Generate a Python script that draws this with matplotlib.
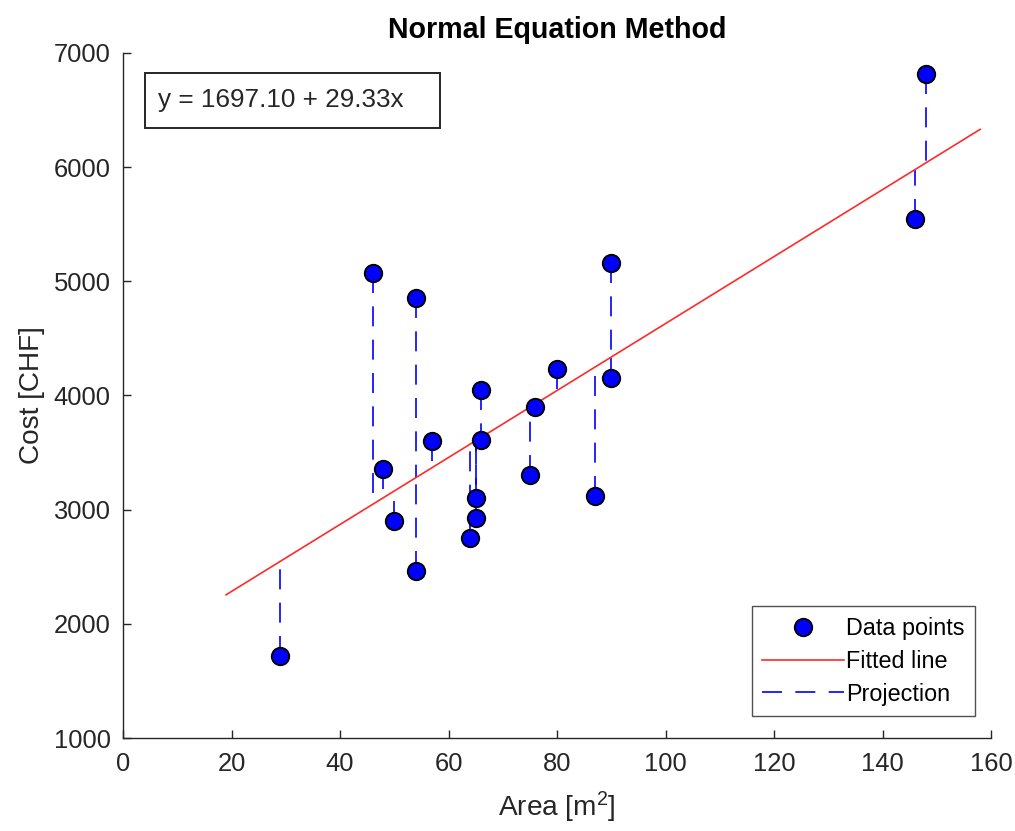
import numpy as np
import matplotlib
matplotlib.use("Agg")
import matplotlib.pyplot as plt
from matplotlib.lines import Line2D
from matplotlib.patches import Rectangle

plt.rcParams['font.family'] = ['Liberation Sans', 'DejaVu Sans']
plt.rcParams['mathtext.fontset'] = 'custom'
plt.rcParams['mathtext.rm'] = 'Liberation Sans'
plt.rcParams['mathtext.it'] = 'Liberation Sans'

# Data
area = [29, 46, 48, 50, 54, 54, 57, 64, 65, 65, 66, 66, 75, 76, 80, 87, 90, 90, 146, 148]
cost = [1720, 5070, 3360, 2900, 4850, 2460, 3600, 2750, 3100, 2930,
        4050, 3610, 3300, 3900, 4230, 3120, 5160, 4150, 5550, 6820]
intercept = 1697.10
slope = 29.33
title = "Normal Equation Method"
xlabel = "Area [m$^{2}$]"
ylabel = "Cost [CHF]"
xticks = [0, 20, 40, 60, 80, 100, 120, 140, 160]
yticks = [1000, 2000, 3000, 4000, 5000, 6000, 7000]
legend_labels = ['Data points', 'Fitted line', 'Projection']

x = np.array(area, dtype=float)
y = np.array(cost, dtype=float)
yhat = intercept + slope * x
xline = np.linspace(x.min() - 10, x.max() + 10, 100)
yline = intercept + slope * xline

dark = '#262626'
red = '#ff2a2a'
fig = plt.figure(figsize=(10.15, 8.31), dpi=100)
ax = fig.add_axes([123/1015, 1 - 738/831, 868/1015, 685/831])

# projections
proj_style = dict(color='#0000ff', lw=1.2, linestyle=(0, (12, 8)))
for xi, yi, yh in zip(x, y, yhat):
    ax.plot([xi, xi], [yi, yh], **proj_style)
ax.plot(xline, yline, color=red, lw=1.2, zorder=3)
ax.plot(x, y, 'o', color='#0000ff', markeredgecolor='black', markersize=12.5,
        markeredgewidth=1.4, zorder=4)

ax.set_xlim(0, 160)
ax.set_ylim(1000, 7000)
ax.set_xticks(xticks)
ax.set_yticks(yticks)
for s in ['top', 'right']:
    ax.spines[s].set_visible(False)
for s in ['left', 'bottom']:
    ax.spines[s].set_color(dark)
    ax.spines[s].set_linewidth(1.0)
ax.tick_params(direction='in', length=6, width=1.0, colors=dark, labelsize=18.4,
               labelcolor=dark)
ax.tick_params(axis='y', pad=9)
ax.tick_params(axis='x', pad=10)

ax.set_title(title, fontsize=20.6, fontweight='bold', color='black', pad=11)
ax.set_xlabel(xlabel, fontsize=20.2, color=dark, labelpad=10)
ax.set_ylabel(ylabel, fontsize=20.2, color=dark, labelpad=6)

# legend handles
handles = [
    Line2D([], [], marker='o', linestyle='none', color='#0000ff',
           markeredgecolor='black', markersize=12.5, markeredgewidth=1.4),
    Line2D([], [], color=red, lw=1.2),
    Line2D([], [], **proj_style),
]
leg = ax.legend(handles, legend_labels,
                loc='lower right', bbox_to_anchor=(0.982, 0.032),
                fontsize=16.8, frameon=True, fancybox=False, edgecolor=dark,
                handlelength=3.5, handletextpad=0.1, borderpad=0.45,
                labelspacing=0.42, borderaxespad=0)
leg.get_frame().set_linewidth(1.0)

# equation box
ax.add_patch(Rectangle((0.0253, 0.8905), 0.3399, 0.0803, transform=ax.transAxes,
                       facecolor='white', edgecolor=dark, lw=1.4, zorder=5))
ax.text(0.0403, 0.9307, f"y = {intercept:.2f} + {slope:.2f}x", transform=ax.transAxes,
        fontsize=18.8, color=dark, va='center', ha='left', zorder=6)

fig.savefig('out.png', dpi=100)
